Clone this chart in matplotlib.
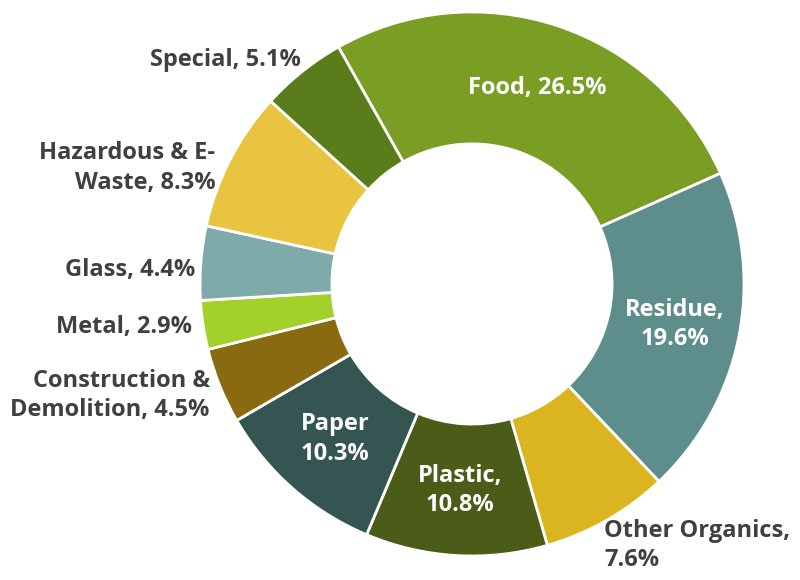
import numpy as np
import matplotlib
matplotlib.use('Agg')
import matplotlib.pyplot as plt

# waste composition, clockwise from Food
CATEGORIES = ['Food', 'Residue', 'Other Organics', 'Plastic', 'Paper',
              'Construction &\nDemolition', 'Metal', 'Glass',
              'Hazardous & E-\nWaste', 'Special']
SHARES = [26.5, 19.6, 7.6, 10.8, 10.3, 4.5, 2.9, 4.4, 8.3, 5.1]
LABELS = ['Food, 26.5%', 'Residue,\n19.6%', 'Other Organics,\n7.6%',
          'Plastic,\n10.8%', 'Paper\n10.3%', 'Construction &\nDemolition, 4.5%',
          'Metal, 2.9%', 'Glass, 4.4%', 'Hazardous & E-\nWaste, 8.3%',
          'Special, 5.1%']
INSIDE = [True, True, False, True, True, False, False, False, False, False]
COLORS = ['#7a9e23', '#5e8e8b', '#dbb51f', '#4a5c17', '#355552',
          '#8a6a10', '#a4d02c', '#7eaaa9', '#e8c440', '#5a7c1a']

START = 119.4

plt.rcParams['font.family'] = ['Open Sans', 'DejaVu Sans']

fig = plt.figure(figsize=(8, 5.8), dpi=100)
ax = fig.add_axes([0.25, 0.0414, 0.68, 0.938])

wedges, _ = ax.pie(SHARES, colors=COLORS, startangle=START, counterclock=False,
                   radius=1.0, wedgeprops=dict(width=0.485, edgecolor='white', linewidth=2))

# small nudges for the outside labels (data units)
nudge = {5: (0.0, -0.02), 7: (0.02, -0.03), 8: (-0.02, -0.05), 9: (0.02, 0.01)}

for i, (w, lab, inside) in enumerate(zip(wedges, LABELS, INSIDE)):
    mid = np.deg2rad((w.theta1 + w.theta2) / 2)
    if inside:
        r = 0.76
        ax.text(r * np.cos(mid), r * np.sin(mid), lab, ha='center', va='center',
                color='white', fontsize=17, fontweight='bold', linespacing=1.3)
    else:
        r = 1.04
        dx, dy = nudge.get(i, (0, 0))
        x, y = r * np.cos(mid) + dx, r * np.sin(mid) + dy
        if x > 0:
            ax.text(x - 0.03, y + 0.04, lab, ha='left', va='top', color='#404040',
                    fontsize=17, fontweight='bold', linespacing=1.3)
        else:
            ax.text(x, y, lab, ha='right', va='center', color='#404040',
                    fontsize=17, fontweight='bold', linespacing=1.3)

ax.set_xlim(-1, 1)
ax.set_ylim(-1, 1)
ax.set_aspect('equal')
ax.axis('off')

fig.savefig('out.png', dpi=100)
